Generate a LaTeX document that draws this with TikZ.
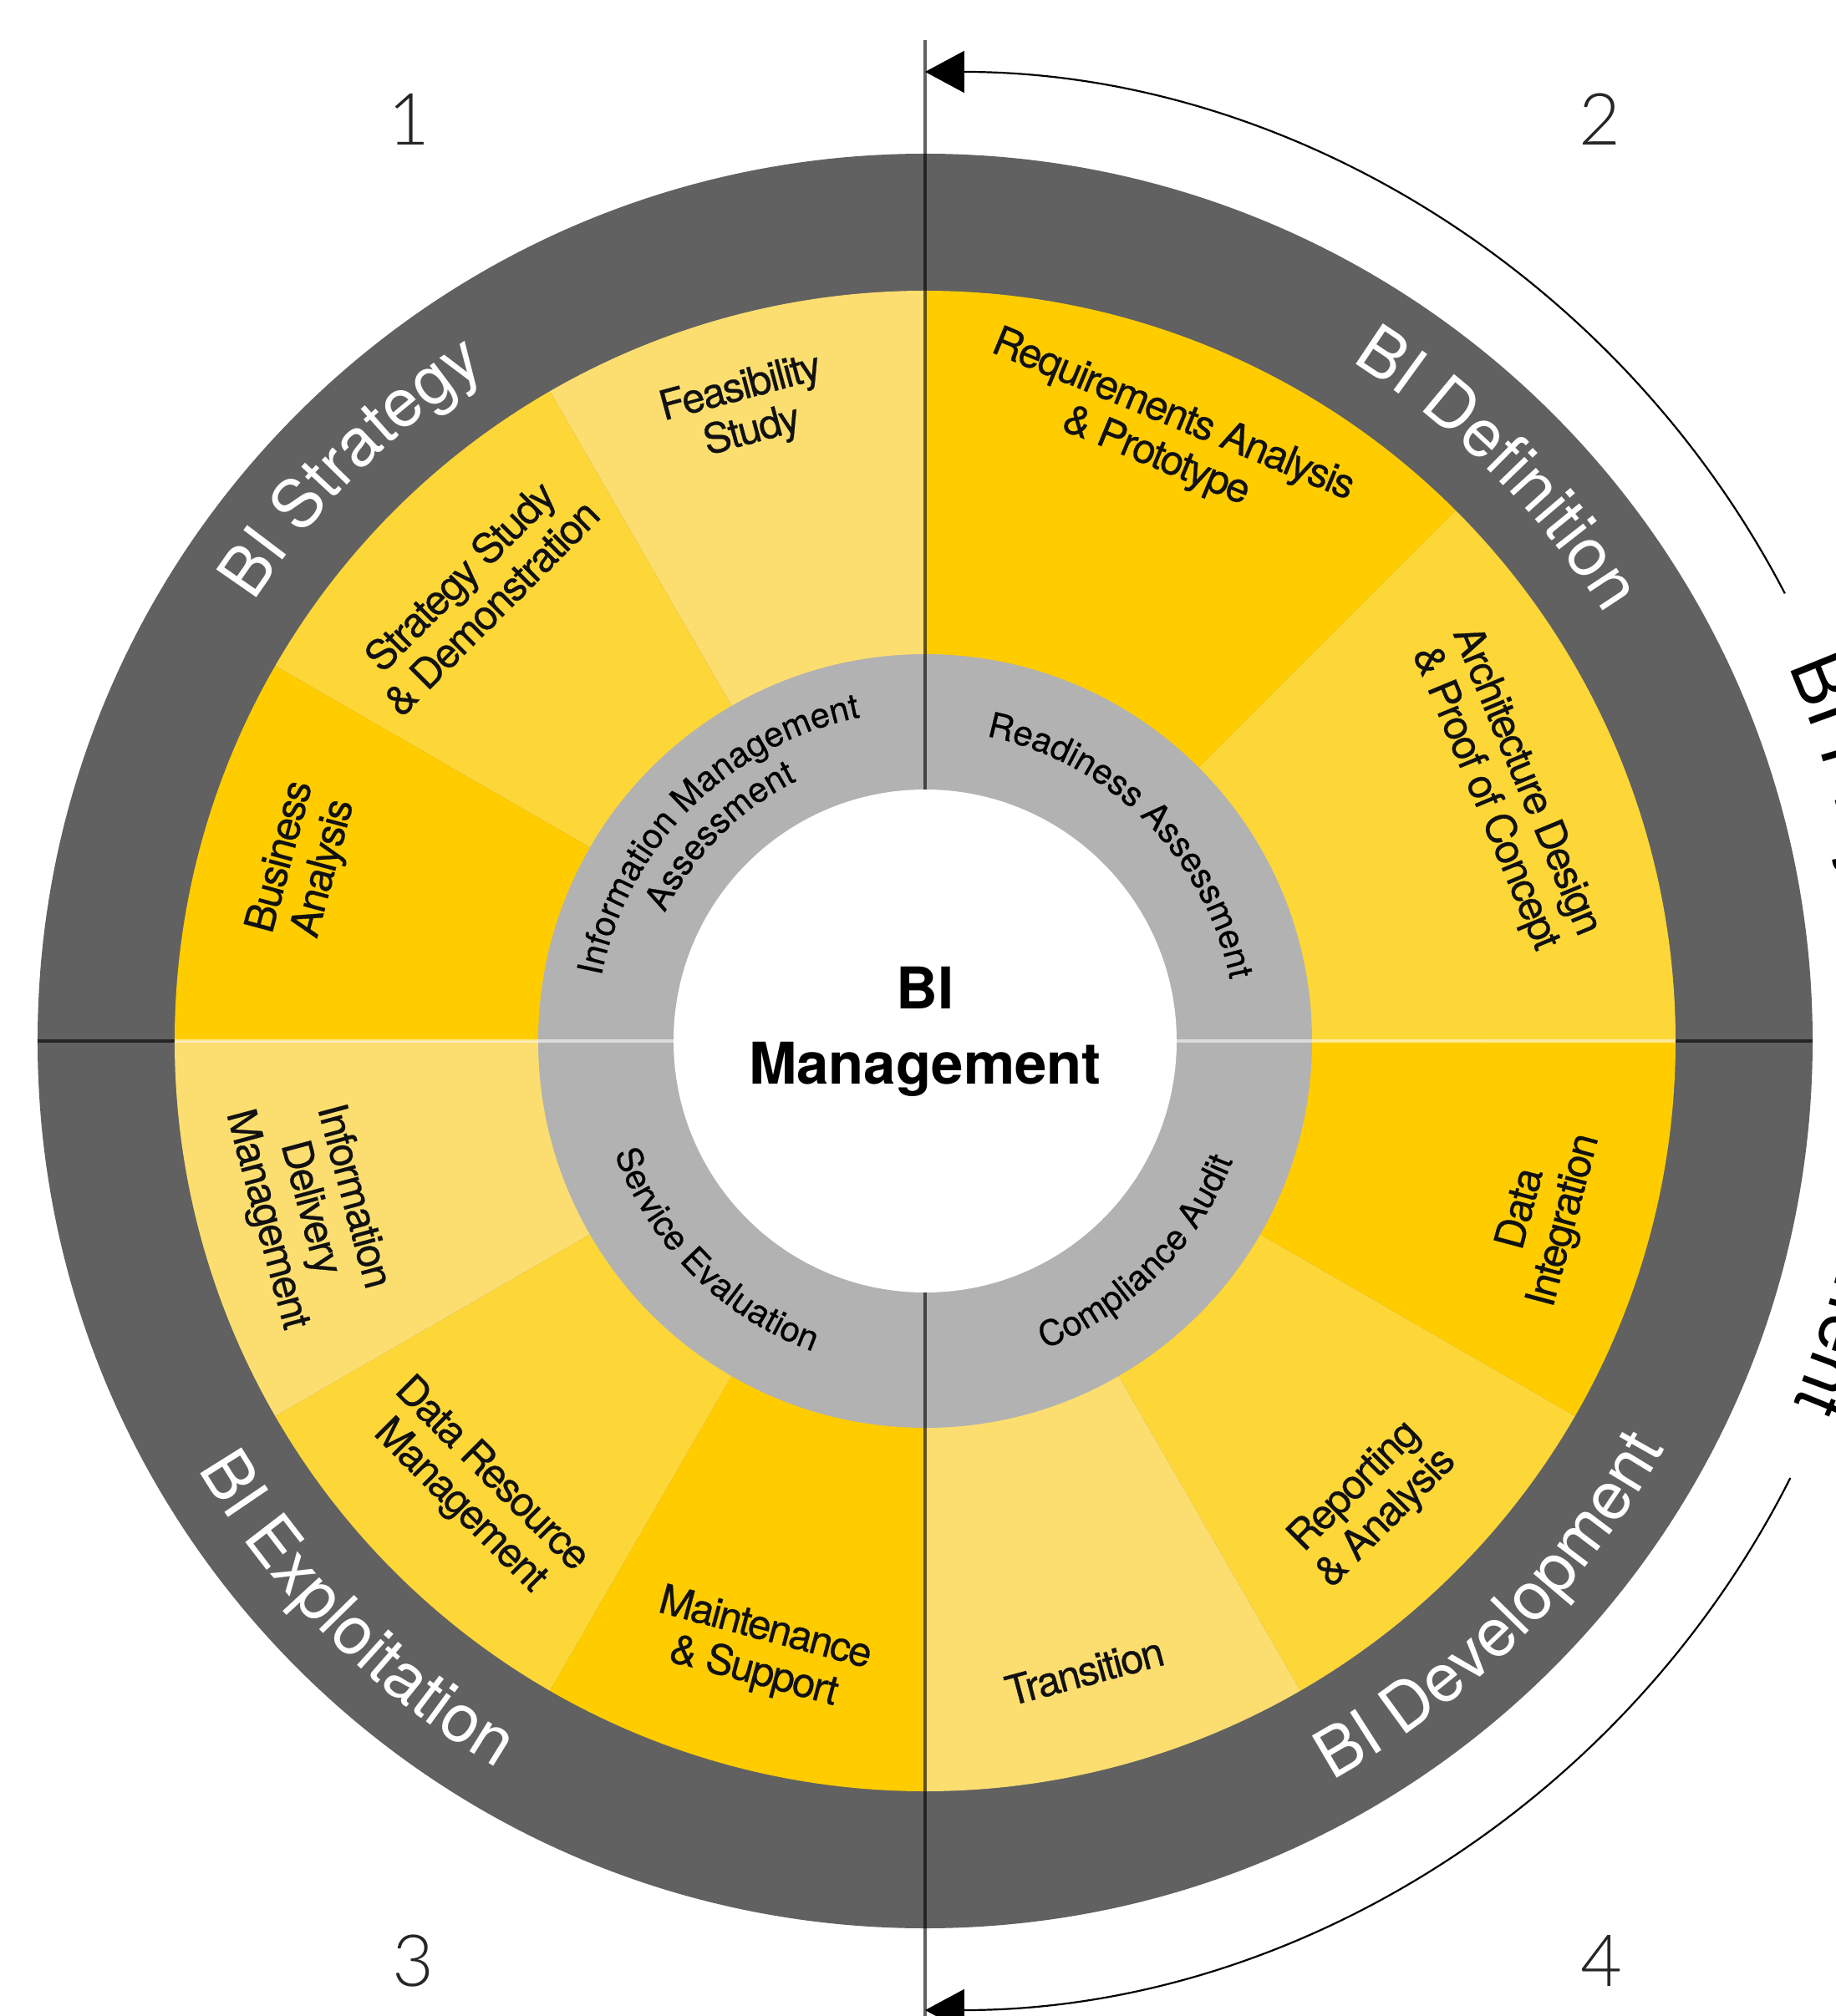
\documentclass[tikz,border=0pt]{standalone}
\usepackage{fontspec}
\setmainfont{TeX Gyre Heros}
\setsansfont{TeX Gyre Heros}
\newfontfamily\numfont{Lato Light}
\newfontfamily\labelfont{TeX Gyre Heros}[FakeBold=0.6, LetterSpace=-4]
\newfontfamily\ringfont{TeX Gyre Heros}[FakeBold=0.5]
\usetikzlibrary{arrows.meta,decorations.text}

\definecolor{ringdark}{HTML}{616161}
\definecolor{ringgrey}{HTML}{B2B2B2}
\definecolor{yelstrong}{HTML}{FFCC00}
\definecolor{yelmid}{HTML}{FDD638}
\definecolor{yelpale}{HTML}{FCDE70}
\definecolor{inktext}{HTML}{111111}

% fonts used for the text that runs along the rings
\newcommand\phasefont{\fontsize{22.8}{27}\selectfont}
\newcommand\auditfont{\ringfont\fontsize{11.9}{14}\selectfont}
\newcommand\spanfont{\fontsize{24.7}{29}\selectfont}

\begin{document}
\begin{tikzpicture}[
  seglabel/.style={align=center, text=inktext, inner sep=0pt,
    font=\labelfont\fontsize{14}{15.2}\selectfont},
  numlabel/.style={inner sep=0pt, text=black!85, font=\numfont\fontsize{24.5}{28}\selectfont},
  hubtext/.style={inner sep=0pt, anchor=base, text=black,
    font=\bfseries\fontsize{19.6}{24}\selectfont},
  axisdark/.style={draw=black, draw opacity=0.62, line width=0.035cm},
  axislight/.style={draw=white, draw opacity=0.55, line width=0.04cm},
  cyclearrow/.style={draw=black, line width=0.022cm,
    -{Triangle[length=0.47cm,width=0.5cm]}},
]
\useasboundingbox (-11.07,-11.67) rectangle (10.89,12.46);
\clip (-11.07,-11.67) rectangle (10.89,12.46);
\fill[white] (-11.07,-11.67) rectangle (10.89,12.46);

% outer phase ring
\fill[ringdark] (0,0) circle (10.62);

% activity segments
\foreach \a/\b/\c in {90/120/yelpale, 120/150/yelmid, 150/180/yelstrong,
                      45/90/yelstrong, 0/45/yelmid,
                      -30/0/yelstrong, -60/-30/yelmid, -90/-60/yelpale,
                      240/270/yelstrong, 210/240/yelmid, 180/210/yelpale}
  \fill[\c] (0,0) -- (\a:8.98) arc[start angle=\a, end angle=\b, radius=8.98] -- cycle;

% assessment ring and hub
\fill[ringgrey] (0,0) circle (4.63);
\fill[white] (0,0) circle (3.01);

% axes
\coordinate (axtop) at (0,11.98);
\coordinate (axhubtop) at (0,3.01);
\coordinate (axhubbot) at (0,-3.01);
\coordinate (axbot) at (0,-11.9);
\coordinate (axwest) at (-10.62,0);
\coordinate (axwestin) at (-8.98,0);
\coordinate (axwesthub) at (-3.01,0);
\coordinate (axeast) at (10.62,0);
\coordinate (axeastin) at (8.98,0);
\coordinate (axeasthub) at (3.01,0);
\draw[axislight] (axwestin) -- (axwesthub);
\draw[axislight] (axeasthub) -- (axeastin);
\draw[axisdark] (axwest) -- (axwestin);
\draw[axisdark] (axeastin) -- (axeast);
\draw[axisdark] (axtop) -- (axhubtop);
\draw[axisdark] (axhubbot) -- (axbot);

% phase names
\path[decorate, decoration={text along path, text align=center,
  text={|\phasefont\color{white}|BI Strategy}}]
  (180:9.6) arc[start angle=180, end angle=90, radius=9.6];
\path[decorate, decoration={text along path, text align=center,
  text={|\phasefont\color{white}|BI Definition}}]
  (90:9.6) arc[start angle=90, end angle=0, radius=9.6];
\path[decorate, decoration={text along path, text align=center,
  text={|\phasefont\color{white}|BI Exploitation}}]
  (180:10.1) arc[start angle=180, end angle=270, radius=10.1];
\path[decorate, decoration={text along path, text align=center,
  text={|\phasefont\color{white}|BI Development}}]
  (270:10.1) arc[start angle=270, end angle=360, radius=10.1];

% assessment names
\path[decorate, decoration={text along path, text align=center,
  text={|\auditfont|Information Management}}]
  (180:3.95) arc[start angle=180, end angle=90, radius=3.95];
\path[decorate, decoration={text along path, text align=center,
  text={|\auditfont|Assessment}}]
  (180:3.47) arc[start angle=180, end angle=90, radius=3.47];
\path[decorate, decoration={text along path, text align=center,
  text={|\auditfont|Readiness Assessment}}]
  (90:3.72) arc[start angle=90, end angle=0, radius=3.72];
\path[decorate, decoration={text along path, text align=center,
  text={|\auditfont|Compliance Audit}}]
  (270:3.95) arc[start angle=270, end angle=360, radius=3.95];
\path[decorate, decoration={text along path, text align=center,
  text={|\auditfont|Service Evaluation}}]
  (180:3.95) arc[start angle=180, end angle=270, radius=3.95];

% activities
\node[seglabel, rotate=15]  (feas)  at (105.8:7.84) {Feasibility\\Study};
\node[seglabel, rotate=45]  (strat) at (135:7.61)   {Strategy Study\\\& Demonstration};
\node[seglabel, rotate=75]  (busan) at (164:7.74)   {Business\\Analysis};
\node[seglabel, rotate=-22.5] (reqan) at (68.4:7.78) {Requirements Analysis\\\& Prototype};
\node[seglabel, rotate=-67.5] (arch) at (23.4:7.56)  {Architecture Design\\\& Proof of Concept};
\node[seglabel, rotate=75]  (dint)  at (-15.7:7.69) {Data\\Integration};
\node[seglabel, rotate=45]  (repan) at (-46:7.68)   {Reporting\\\& Analysis};
\node[seglabel, rotate=15]  (trans) at (-75.8:7.78) {Transition};
\node[seglabel, rotate=-15] (maint) at (254.8:7.57) {Maintenance\\\& Support};
\node[seglabel, rotate=-45] (dres)  at (225:7.61)   {Data Resource\\Management};
\node[seglabel, rotate=-75] (idel)  at (195.2:7.64) {Information\\Delivery\\Management};

% hub
\node[hubtext] (hubtop) at (0,0.38) {BI};
\node[hubtext] (hubbot) at (0,-0.51) {Management};

% quadrant numbers
\node[numlabel] (num1) at (-6.18,11.03) {1};
\node[numlabel] (num2) at (8.07,11.03) {2};
\node[numlabel] (num3) at (-6.13,-11.01) {3};
\node[numlabel] (num4) at (8.09,-11.01) {4};

% project span arrows on the right
\coordinate (upperfrom) at (27.5:11.6);
\coordinate (lowerfrom) at (-26.8:11.6);
\draw[cyclearrow] (upperfrom) arc[start angle=27.5, end angle=90, radius=11.6];
\draw[cyclearrow] (lowerfrom) arc[start angle=-26.8, end angle=-90, radius=11.6];
\path[decorate, decoration={text along path, text align=center,
  text={|\spanfont|BI Project Management}}]
  (60.4:11.26) arc[start angle=60.4, end angle=-59.6, radius=11.26];
\end{tikzpicture}
\end{document}
